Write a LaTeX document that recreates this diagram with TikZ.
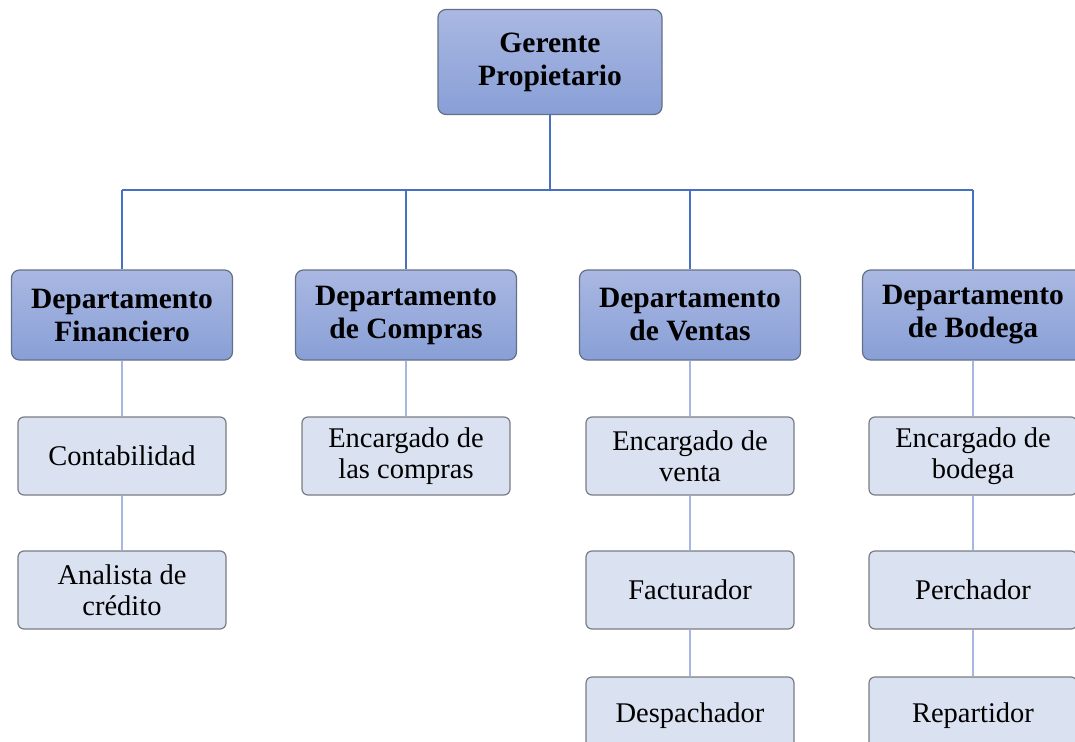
\documentclass[tikz,border=0pt]{standalone}
\usepackage{fontspec}
\setmainfont{Liberation Serif}
\usepackage{tikz}
\usetikzlibrary{positioning}
\definecolor{azulsup}{RGB}{170,184,226}
\definecolor{azulinf}{RGB}{136,159,214}
\definecolor{bordeazul}{RGB}{100,112,135}
\definecolor{celeste}{RGB}{218,225,240}
\definecolor{bordegris}{RGB}{120,124,132}
\definecolor{lineaosc}{RGB}{70,112,196}
\definecolor{lineacla}{RGB}{165,183,226}
\tikzset{
    jefe/.style={draw=bordeazul, line width=1.2pt, rounded corners=8pt,
      top color=azulsup, bottom color=azulinf, align=center,
      font=\fontsize{29.5}{33}\selectfont\bfseries, inner sep=0pt},
    depto/.style={jefe, minimum width=221pt, minimum height=90pt},
    puesto/.style={draw=bordegris, line width=1.2pt, rounded corners=6pt,
      fill=celeste, align=center, minimum width=208pt, minimum height=78pt,
      font=\fontsize{28.5}{31}\selectfont, inner sep=0pt},
    tronco/.style={draw=lineaosc, line width=2pt},
    rama/.style={draw=lineacla, line width=2pt}
}
\begin{document}
\begin{tikzpicture}[x=1pt,y=-1pt]
    \useasboundingbox (0,0) rectangle (1075,741);
    \clip (0,0) rectangle (1075,741);
    \node[jefe, minimum width=224pt, minimum height=105pt] (ger) at (550,62) {Gerente\\Propietario};
    \node[depto] (finan) at (122,315) {Departamento\\Financiero};
    \node[depto] (compras) at (406,315) {Departamento\\de Compras};
    \node[depto] (ventas) at (690,315) {Departamento\\de Ventas};
    \node[depto] (bodega) at (973,315) {Departamento\\de Bodega};
    \node[puesto] (contab) at (122,456) {Contabilidad};
    \node[puesto] (analista) at (122,590) {Analista de\\crédito};
    \node[puesto] (enccompras) at (406,456) {Encargado de\\las compras};
    \node[puesto] (encventa) at (690,456) {Encargado de\\venta};
    \node[puesto] (factur) at (690,590) {Facturador};
    \node[puesto] (despach) at (690,716) {Despachador};
    \node[puesto] (encbodega) at (973,456) {Encargado de\\bodega};
    \node[puesto] (perch) at (973,590) {Perchador};
    \node[puesto] (repart) at (973,716) {Repartidor};
    \coordinate (cruce) at (550,190);
    \draw[tronco] (ger.south) -- (cruce);
    \draw[tronco] (cruce -| finan) -- (cruce -| bodega);
    \foreach \d in {finan,compras,ventas,bodega}
      \draw[tronco] (cruce -| \d) -- (\d.north);
    \draw[rama] (finan) -- (contab);
    \draw[rama] (contab) -- (analista);
    \draw[rama] (compras) -- (enccompras);
    \draw[rama] (ventas) -- (encventa);
    \draw[rama] (encventa) -- (factur);
    \draw[rama] (factur) -- (despach);
    \draw[rama] (bodega) -- (encbodega);
    \draw[rama] (encbodega) -- (perch);
    \draw[rama] (perch) -- (repart);
\end{tikzpicture}
\end{document}
